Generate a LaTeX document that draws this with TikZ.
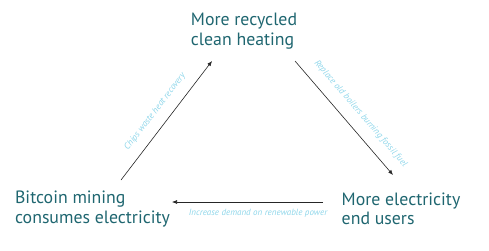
\documentclass[tikz,border=0pt]{standalone}
\usepackage{fontspec}
\setmainfont{PT Sans}
\usetikzlibrary{arrows.meta}
\definecolor{teal1}{HTML}{1F6670}
\definecolor{cyan1}{HTML}{8ED6EA}
\tikzset{
  box/.style={text=teal1, font=\fontsize{17.8}{19.5}\selectfont, align=left, inner sep=0pt},
  arr/.style={draw=black!85, line width=0.6pt, -{Latex[length=5pt,width=4pt]}},
  lab/.style={text=cyan1, font=\fontsize{9}{10}\selectfont\itshape, inner sep=0pt}
}
\begin{document}
\begin{tikzpicture}[x=1pt,y=1pt]
\useasboundingbox (0,0) rectangle (489,250);
\node[box] (top) at (244,219) {More recycled\\clean heating};
\node[box] (left) at (92.5,41) {Bitcoin mining\\consumes electricity};
\node[box] (right) at (401,41) {More electricity\\end users};
\draw[arr] ([shift={(28.5,29)}]left.center) -- node[lab, sloped, above=10pt] {Chips waste heat recovery} ([shift={(-32,-30)}]top.center);
\draw[arr] ([shift={(51,-30)}]top.center) -- node[lab, sloped, above=11pt, pos=0.55] {Replace old boilers burning fossil fuel} ([shift={(-8,34)}]right.center);
\draw[arr] ([shift={(-78,7)}]right.center) -- node[lab, below=7pt, pos=0.43] {Increase demand on renewable power} ([shift={(79.5,7)}]left.center);
\end{tikzpicture}
\end{document}
